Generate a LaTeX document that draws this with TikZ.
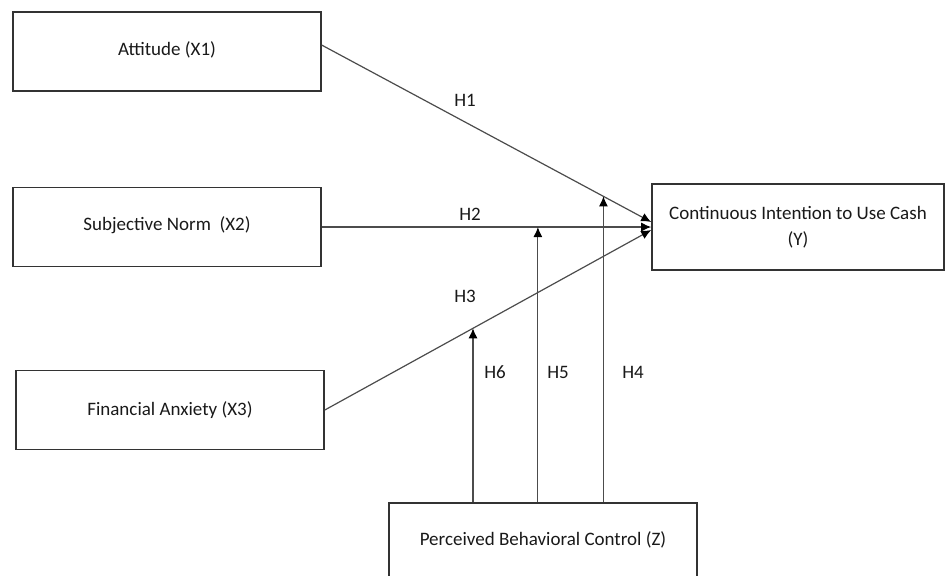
\documentclass[tikz,border=0pt]{standalone}
\usepackage{fontspec}
\setmainfont{Carlito}
\usetikzlibrary{arrows.meta}
\newcommand{\fsz}{\fontsize{9.5}{13}\selectfont}
\begin{document}
\begin{tikzpicture}[
  x=0.5pt, y=-0.5pt,
  vbox/.style={draw=black!80, line width=0.8pt, minimum width=154pt, minimum height=39.5pt, inner sep=0, font=\fsz, text=black!90, align=center},
  link/.style={draw=black!70, line width=0.6pt, -{Latex[length=5pt,width=4.5pt,fill=black,color=black]}},
  hlab/.style={font=\fsz, text=black!90}
]
\useasboundingbox (0,0) rectangle (946,575);
\node[vbox] (x1) at (167, 51.5) {\raisebox{3.2pt}{Attitude (X1)}};
\node[vbox] (x2) at (167, 227) {\raisebox{3.5pt}{Subjective Norm~~(X2)}};
\node[vbox] (x3) at (170, 410) {Financial Anxiety (X3)};
\node[vbox, minimum width=146pt, minimum height=43pt] (y) at (798, 227) {\raisebox{2pt}{\parbox{140pt}{\centering Continuous Intention to Use Cash\\(Y)}}};
\node[vbox, minimum height=40pt] (z) at (543, 543) {\raisebox{4pt}{Perceived Behavioral Control (Z)}};
% direct paths
\draw[link] ([yshift=3.2pt]x1.east) -- coordinate[pos=0.855] (m4) ([yshift=2.5pt]y.west);
\draw[link] (x2.east) -- coordinate[pos=0.656] (m5) (y.west);
\draw[link] (x3.east) -- coordinate[pos=0.454] (m6) ([yshift=-1.5pt]y.west);
% moderation
\foreach \m in {4,5,6}{
  \draw[link] (z.north -| m\m) -- (m\m);
}
\node[hlab] (h1) at (465, 100) {H1};
\node[hlab] (h2) at (470, 214) {H2};
\node[hlab] (h3) at (465, 296) {H3};
\node[hlab] (h6) at (495, 372) {H6};
\node[hlab] (h5) at (558, 372) {H5};
\node[hlab] (h4) at (633, 372) {H4};
\end{tikzpicture}
\end{document}
